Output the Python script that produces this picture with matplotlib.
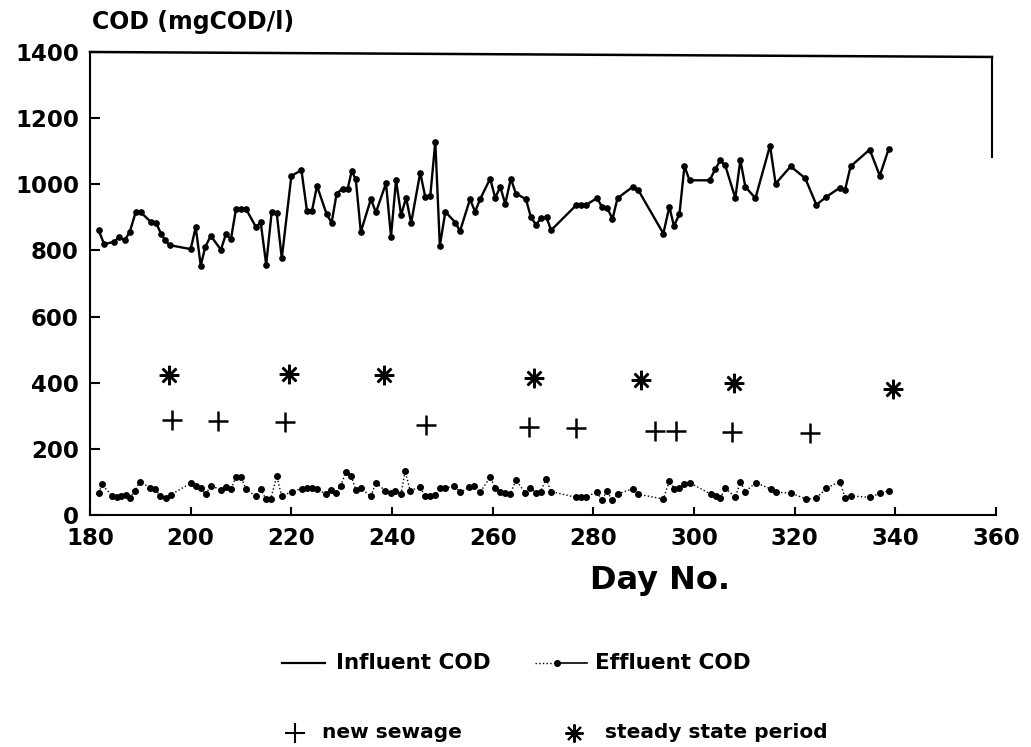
import matplotlib.pyplot as plt
from matplotlib.lines import Line2D

# 資料
days_in = [181.7, 182.8, 184.8, 185.8, 186.9, 187.9, 189.1, 190.1, 192.1, 193.1,
           194.1, 194.9, 195.8, 200.0, 201.0, 202.0, 202.9, 204.0, 206.0, 207.0,
           208.0, 209.0, 210.0, 211.0, 213.0, 213.9, 215.0, 216.1, 217.1, 218.1,
           220.0, 222.0, 223.1, 224.1, 225.1, 227.0, 228.0, 229.0, 230.2, 231.2,
           232.0, 232.8, 233.8, 235.8, 236.8, 238.8, 239.8, 240.8, 241.8, 242.8,
           243.8, 245.6, 246.6, 247.6, 248.6, 249.5, 250.6, 252.6, 253.5, 255.5,
           256.5, 257.5, 259.5, 260.5, 261.5, 262.5, 263.6, 264.6, 266.6, 267.6,
           268.6, 269.6, 270.7, 271.6, 276.6, 277.5, 278.5, 280.7, 281.8, 282.8,
           283.8, 284.8, 287.8, 288.9, 293.9, 295.1, 296.0, 297.1, 298.1, 299.1,
           303.1, 304.2, 305.2, 306.2, 308.2, 309.2, 310.2, 312.2, 315.1, 316.2,
           319.2, 322.1, 324.3, 326.3, 329.0, 330.0, 331.1, 334.9, 336.9, 338.7]
cod_in = [862, 819, 826, 841, 831, 856, 917, 915, 886, 884,
          851, 831, 816, 804, 870, 754, 811, 844, 802, 849,
          834, 925, 925, 925, 870, 886, 757, 917, 912, 776,
          1025, 1043, 920, 920, 995, 910, 884, 972, 987, 987,
          1040, 1015, 856, 955, 915, 1003, 842, 1013, 907, 959,
          883, 1035, 962, 965, 1129, 814, 917, 884, 858, 955,
          917, 955, 1017, 959, 992, 941, 1017, 972, 955, 900,
          878, 897, 900, 861, 937, 937, 937, 958, 930, 927,
          895, 958, 992, 983, 851, 932, 874, 910, 1055, 1012,
          1012, 1045, 1072, 1057, 958, 1073, 992, 958, 1117, 1002,
          1054, 1018, 938, 962, 990, 983, 1054, 1105, 1026, 1108]

days_ef = [181.8, 182.3, 184.4, 185.3, 186.1, 187.1, 187.9, 188.9, 189.9, 191.9,
           192.9, 194.0, 195.0, 196.0, 200.0, 201.0, 202.0, 203.0, 204.0, 206.0,
           207.0, 208.0, 209.0, 210.0, 211.0, 213.0, 213.9, 214.9, 215.9, 217.1,
           218.1, 220.1, 222.1, 223.1, 224.1, 225.1, 226.8, 227.8, 228.8, 229.8,
           230.9, 231.9, 232.8, 233.8, 235.8, 236.8, 238.6, 239.8, 240.6, 241.8,
           242.6, 243.6, 245.6, 246.6, 247.6, 248.6, 249.6, 250.6, 252.4, 253.6,
           255.3, 256.3, 257.5, 259.5, 260.5, 261.5, 262.5, 263.5, 264.6, 266.5,
           267.5, 268.6, 269.5, 270.6, 271.6, 276.6, 277.5, 278.5, 280.7, 281.7,
           282.7, 283.7, 284.8, 287.8, 288.9, 293.9, 295.1, 296.1, 297.1, 298.1,
           299.1, 303.3, 304.3, 305.2, 306.2, 308.2, 309.2, 310.2, 312.3, 315.3,
           316.3, 319.3, 322.3, 324.3, 326.3, 329.0, 330.0, 331.1, 335.0, 336.9,
           338.8]
cod_ef = [66, 93, 58, 54, 58, 61, 51, 73, 101, 83,
          79, 56, 51, 61, 96, 89, 81, 63, 89, 76,
          86, 78, 114, 114, 78, 56, 79, 49, 49, 117,
          56, 71, 80, 82, 82, 80, 63, 76, 66, 89,
          131, 118, 76, 81, 56, 98, 74, 66, 73, 63,
          133, 74, 84, 56, 56, 61, 81, 81, 89, 68,
          84, 89, 69, 114, 83, 71, 66, 63, 106, 66,
          83, 66, 71, 108, 71, 53, 53, 53, 71, 44,
          74, 44, 64, 79, 63, 48, 103, 79, 81, 93,
          98, 63, 58, 51, 81, 54, 99, 71, 98, 78,
          69, 66, 48, 51, 81, 101, 51, 58, 53, 66,
          73]

days_sewage = [196.2, 205.5, 218.8, 246.7, 267.3, 276.6, 292.3, 296.4, 307.6, 323.1]
y_sewage = [287, 284, 280, 272, 265, 262, 255, 255, 252, 249]

days_steady = [195.7, 219.6, 238.4, 268.3, 289.5, 308.0, 339.6]
y_steady = [423, 426, 423, 413, 408, 398, 380]

x_ticks = [180, 200, 220, 240, 260, 280, 300, 320, 340, 360]
y_ticks = [0, 200, 400, 600, 800, 1000, 1200, 1400]

plt.rcParams['font.family'] = ['DejaVu Sans']
plt.rcParams['font.weight'] = 'bold'

fig = plt.figure(figsize=(10.31, 7.47), dpi=100)
ax = fig.add_axes([0.0873, 0.3106, 0.8788, 0.6198])

# 繪圖
ax.plot(days_in, cod_in, '-', color='black', lw=1.7, marker='o', ms=3.8)
ax.plot(days_ef, cod_ef, ':', color='black', lw=1.0, marker='o', ms=4)
ax.plot(days_sewage, y_sewage, '+', color='black', ms=15, mew=1.8, ls='none')
ax.plot(days_steady, y_steady, marker=(8, 2, 0), color='black', ms=14, mew=1.8, ls='none')

ax.set_xlim(180, 360)
ax.set_ylim(0, 1400)
ax.set_xticks(x_ticks)
ax.set_yticks(y_ticks)
ax.tick_params(axis='both', direction='in', width=1.5, labelsize=16.5)
ax.tick_params(axis='x', length=6, pad=9)
ax.tick_params(axis='y', length=7, pad=8)
for lab in ax.get_xticklabels() + ax.get_yticklabels():
    lab.set_fontweight('bold')

ax.spines['top'].set_visible(False)
ax.spines['right'].set_visible(False)
ax.spines['left'].set_linewidth(1.5)
ax.spines['bottom'].set_linewidth(1.5)
# 上框線(略微傾斜)與右側殘線
ax.plot([180, 359.2], [1400, 1385], color='black', lw=1.8, clip_on=False)
ax.plot([359.2, 359.2], [1385, 1083], color='black', lw=1.5, clip_on=False)

fig.text(92 / 1031, 1 - 22 / 747, 'COD (mgCOD/l)', fontsize=17, fontweight='bold',
         ha='left', va='center')
fig.text(660 / 1031, 1 - 581 / 747, 'Day No.', fontsize=23, fontweight='bold',
         ha='center', va='center')

# 圖例
W, H = 1031, 747
def fx(px):
    return px / W
def fy(py):
    return 1 - py / H

fig.add_artist(Line2D([fx(282), fx(325)], [fy(663), fy(663)], color='black', lw=1.6,
                      transform=fig.transFigure))
fig.text(fx(336), fy(663), 'Influent COD', fontsize=15.5, fontweight='bold',
         ha='left', va='center')
fig.add_artist(Line2D([fx(535), fx(557)], [fy(663), fy(663)], color='black', lw=1.0,
                      ls=':', transform=fig.transFigure))
fig.add_artist(Line2D([fx(557), fx(587)], [fy(663), fy(663)], color='black', lw=1.2,
                      transform=fig.transFigure))
fig.add_artist(Line2D([fx(557)], [fy(663)], color='black', marker='o', ms=4,
                      transform=fig.transFigure))
fig.text(fx(595), fy(663), 'Effluent COD', fontsize=15.5, fontweight='bold',
         ha='left', va='center')

fig.add_artist(Line2D([fx(295)], [fy(733)], color='black', marker='+', ms=14, mew=1.5,
                      transform=fig.transFigure))
fig.text(fx(322), fy(733), 'new sewage', fontsize=14.5, fontweight='bold',
         ha='left', va='center')
fig.add_artist(Line2D([fx(574)], [fy(733)], color='black', marker=(8, 2, 0), ms=13,
                      mew=1.5, transform=fig.transFigure))
fig.text(fx(605), fy(733), 'steady state period', fontsize=14.5, fontweight='bold',
         ha='left', va='center')

plt.savefig('out.png', dpi=100)
